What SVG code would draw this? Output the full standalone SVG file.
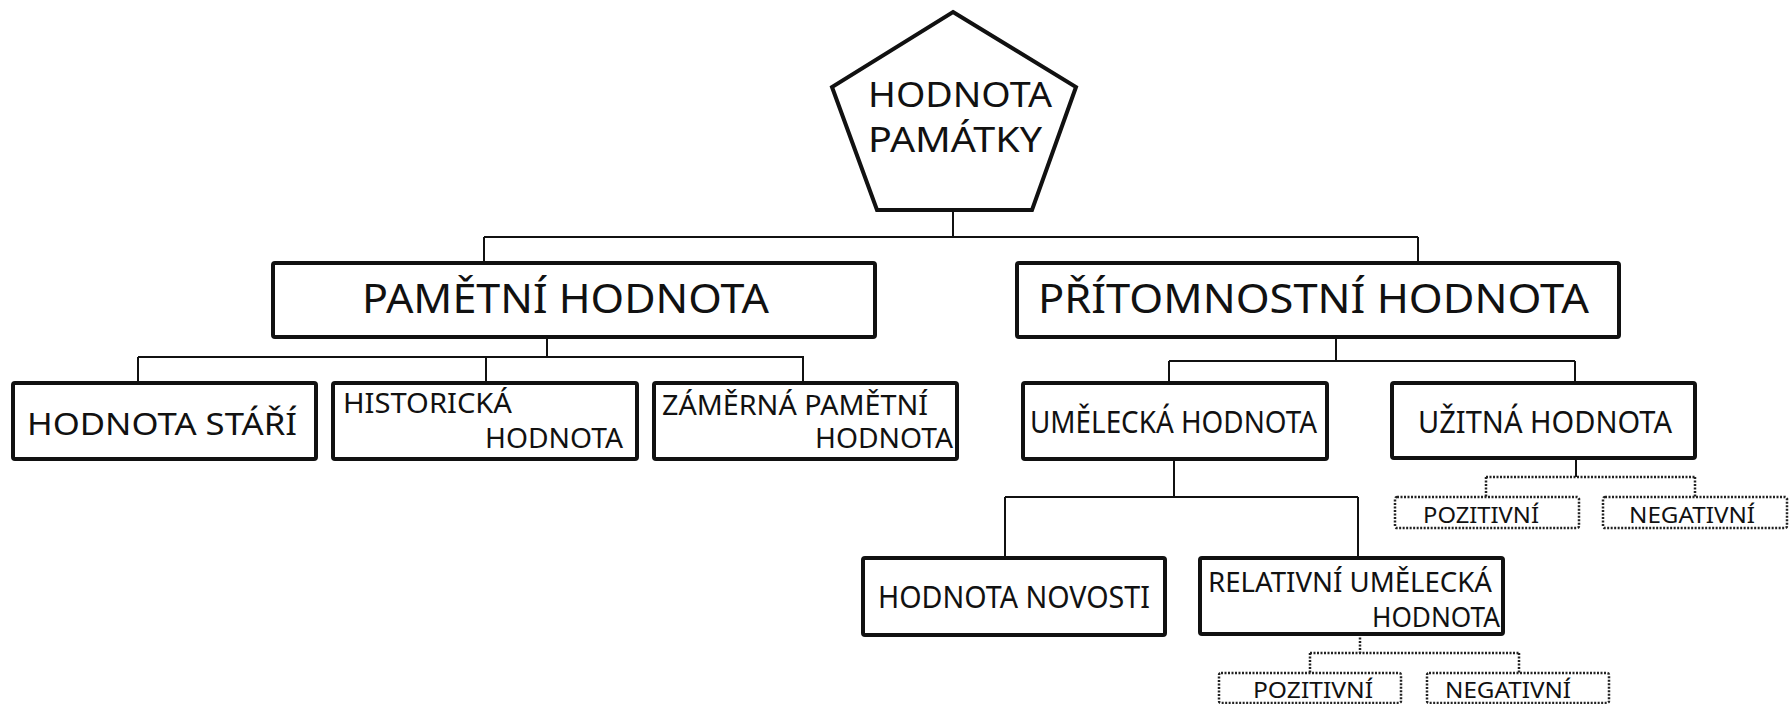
<svg xmlns="http://www.w3.org/2000/svg" width="1792" height="704" viewBox="0 0 1792 704">
<style>
.box{fill:#fff;stroke:#111;stroke-width:4;}
.dbox{fill:#fff;stroke:#222;stroke-width:2.5;stroke-dasharray:2 1.5;}
.ln{fill:none;stroke:#111;stroke-width:2;}
.dln{fill:none;stroke:#222;stroke-width:2.5;stroke-dasharray:2 1.5;}
text{font-family:"Noto Sans","Open Sans","DejaVu Sans",sans-serif;fill:#111;}
.t1{font-size:40px;}
.t2{font-size:30px;}
.t3{font-size:27px;}
.t4{font-size:22px;}
</style>
<rect width="1792" height="704" fill="#fff"/>
<g id="connectors">
<path class="ln" d="M953,210V237M484,237H1418M484,237V263M1418,237V263"/>
<path class="ln" d="M547,337V357M138,357H804M138,357V383M486,357V383M803,357V383"/>
<path class="ln" d="M1336,337V361M1169,361H1575M1169,361V383M1575,361V383"/>
<path class="ln" d="M1174,459V497M1005,497H1358M1005,497V558M1358,497V558"/>
<path class="ln" d="M1576,458V477"/>
<path class="dln" d="M1486,477H1695M1486,477V497M1695,477V497"/>
<path class="dln" d="M1360,634V653M1310,653H1519M1310,653V673M1519,653V673"/>
</g>
<g id="n-hodnota-pamatky">
<polygon class="box" points="953,12 1076,87 1032,210 877,210 832,87"/>
<text x="868" y="107" font-size="34" textLength="184" lengthAdjust="spacingAndGlyphs">HODNOTA</text>
<text x="868" y="152" font-size="34" textLength="174" lengthAdjust="spacingAndGlyphs">PAMÁTKY</text>
</g>
<g id="n-pametni">
<rect class="box" x="273" y="263" width="602" height="74" rx="2"/>
<text class="t1" x="362" y="313" textLength="407" lengthAdjust="spacingAndGlyphs">PAMĚTNÍ HODNOTA</text>
</g>
<g id="n-pritomnostni">
<rect class="box" x="1017" y="263" width="602" height="74" rx="2"/>
<text class="t1" x="1038" y="313" textLength="551" lengthAdjust="spacingAndGlyphs">PŘÍTOMNOSTNÍ HODNOTA</text>
</g>
<g id="n-stari">
<rect class="box" x="13" y="383" width="303" height="76" rx="2"/>
<text class="t2" x="27" y="435" textLength="270" lengthAdjust="spacingAndGlyphs">HODNOTA STÁŘÍ</text>
</g>
<g id="n-historicka">
<rect class="box" x="333" y="383" width="304" height="76" rx="2"/>
<text class="t3" x="343" y="413" textLength="169" lengthAdjust="spacingAndGlyphs">HISTORICKÁ</text>
<text class="t3" x="485" y="448" textLength="138" lengthAdjust="spacingAndGlyphs">HODNOTA</text>
</g>
<g id="n-zamerna">
<rect class="box" x="654" y="383" width="303" height="76" rx="2"/>
<text class="t3" x="662" y="415" textLength="266" lengthAdjust="spacingAndGlyphs">ZÁMĚRNÁ PAMĚTNÍ</text>
<text class="t3" x="815" y="448" textLength="138" lengthAdjust="spacingAndGlyphs">HODNOTA</text>
</g>
<g id="n-umelecka">
<rect class="box" x="1023" y="383" width="304" height="76" rx="2"/>
<text class="t2" x="1030" y="433" textLength="287" lengthAdjust="spacingAndGlyphs">UMĚLECKÁ HODNOTA</text>
</g>
<g id="n-uzitna">
<rect class="box" x="1392" y="383" width="303" height="75" rx="2"/>
<text class="t2" x="1418" y="433" textLength="254" lengthAdjust="spacingAndGlyphs">UŽITNÁ HODNOTA</text>
</g>
<g id="n-novosti">
<rect class="box" x="863" y="558" width="302" height="77" rx="2"/>
<text class="t2" x="878" y="608" textLength="272" lengthAdjust="spacingAndGlyphs">HODNOTA NOVOSTI</text>
</g>
<g id="n-relativni">
<rect class="box" x="1200" y="558" width="303" height="76" rx="2"/>
<text class="t3" x="1208" y="592" textLength="284" lengthAdjust="spacingAndGlyphs">RELATIVNÍ UMĚLECKÁ</text>
<text class="t3" x="1372" y="627" textLength="128" lengthAdjust="spacingAndGlyphs">HODNOTA</text>
</g>
<g id="n-uzitna-pozitivni">
<rect class="dbox" x="1395" y="497" width="184" height="31" rx="2"/>
<text class="t4" x="1423" y="523" textLength="116" lengthAdjust="spacingAndGlyphs">POZITIVNÍ</text>
</g>
<g id="n-uzitna-negativni">
<rect class="dbox" x="1603" y="497" width="184" height="31" rx="2"/>
<text class="t4" x="1629" y="523" textLength="126" lengthAdjust="spacingAndGlyphs">NEGATIVNÍ</text>
</g>
<g id="n-relativni-pozitivni">
<rect class="dbox" x="1219" y="673" width="182" height="30" rx="2"/>
<text class="t4" x="1253" y="698" textLength="120" lengthAdjust="spacingAndGlyphs">POZITIVNÍ</text>
</g>
<g id="n-relativni-negativni">
<rect class="dbox" x="1427" y="673" width="182" height="30" rx="2"/>
<text class="t4" x="1445" y="698" textLength="126" lengthAdjust="spacingAndGlyphs">NEGATIVNÍ</text>
</g>
</svg>
